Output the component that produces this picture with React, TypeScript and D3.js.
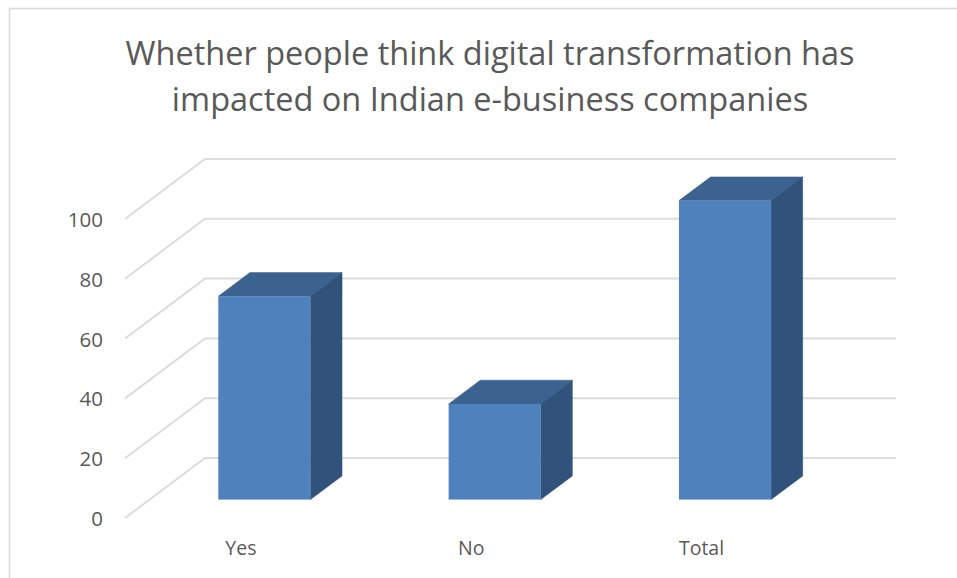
import React from "react";
import * as d3 from "d3";

const categories = ["Yes", "No", "Total"];
const values = [68, 32, 100];
const yTicks = [0, 20, 40, 60, 80, 100];
const titleLines = [
  "Whether people think digital transformation has",
  "impacted on Indian e-business companies",
];

const WIDTH = 957;
const HEIGHT = 578;
const FONT = "'Open Sans', 'Noto Sans', sans-serif";

// 3D projection: the floor depth runs up and to the right
const floorDx = 80;
const floorDy = -60;
const frontLeft = 125;
const frontRight = 816;
const frontZero = 518;
const frontTop = 219;

const y = d3.scaleLinear().domain([0, 100]).range([frontZero, frontTop]);
const x = d3
  .scaleBand<string>()
  .domain(categories)
  .range([frontLeft + 24.2, frontRight + 24.2])
  .paddingInner(0.6)
  .paddingOuter(0.3);

const barDepthStart = 0.307;
const barDepthEnd = 0.702;

const pts = (p: [number, number][]) => p.map((q) => q.join(",")).join(" ");

export default function App() {
  const dyStart = floorDy * barDepthStart;
  const dxDepth = floorDx * (barDepthEnd - barDepthStart);
  const dyDepth = floorDy * (barDepthEnd - barDepthStart);
  return (
    <svg
      width={WIDTH}
      height={HEIGHT}
      viewBox={`0 0 ${WIDTH} ${HEIGHT}`}
      style={{ position: "absolute", left: 0, top: 0, background: "#fff" }}
    >
      <path d={`M9.5,${HEIGHT} V8.5 H${WIDTH}`} fill="none" stroke="#d9d9d9" strokeWidth={1.5} />
      {titleLines.map((t, i) => (
        <text
          key={t}
          x={490}
          y={65 + i * 45.5}
          textAnchor="middle"
          fontFamily={FONT}
          fontSize={32.5}
          fill="#595959"
        >
          {t}
        </text>
      ))}
      {yTicks.map((t) => (
        <g key={t}>
          <polyline
            points={pts([
              [frontLeft, y(t)],
              [frontLeft + floorDx, y(t) + floorDy],
              [frontRight + floorDx, y(t) + floorDy],
            ])}
            fill="none"
            stroke="#dcdcdc"
            strokeWidth={2}
          />
          <text
            x={103}
            y={y(t) + 8}
            textAnchor="end"
            fontFamily={FONT}
            fontSize={20.5}
            fill="#595959"
          >
            {t}
          </text>
        </g>
      ))}
      {categories.map((c, i) => {
        const x0 = x(c)!;
        const x1 = x0 + x.bandwidth();
        const yb = y(0) + dyStart;
        const yt = y(values[i]) + dyStart;
        return (
          <g key={c}>
            <polygon
              points={pts([
                [x0, yt],
                [x0 + dxDepth, yt + dyDepth],
                [x1 + dxDepth, yt + dyDepth],
                [x1, yt],
              ])}
              fill="#3c6290"
              stroke="#3c6290"
              strokeWidth={0.5}
            />
            <polygon
              points={pts([
                [x1, yt],
                [x1 + dxDepth, yt + dyDepth],
                [x1 + dxDepth, yb + dyDepth],
                [x1, yb],
              ])}
              fill="#31527a"
              stroke="#31527a"
              strokeWidth={0.5}
            />
            <rect x={x0} y={yt} width={x1 - x0} height={yb - yt} fill="#4f81bd" />
            <text
              x={(x0 + x1) / 2 - 23.5}
              y={555}
              textAnchor="middle"
              fontFamily={FONT}
              fontSize={19.5}
              fill="#595959"
            >
              {c}
            </text>
          </g>
        );
      })}
    </svg>
  );
}
